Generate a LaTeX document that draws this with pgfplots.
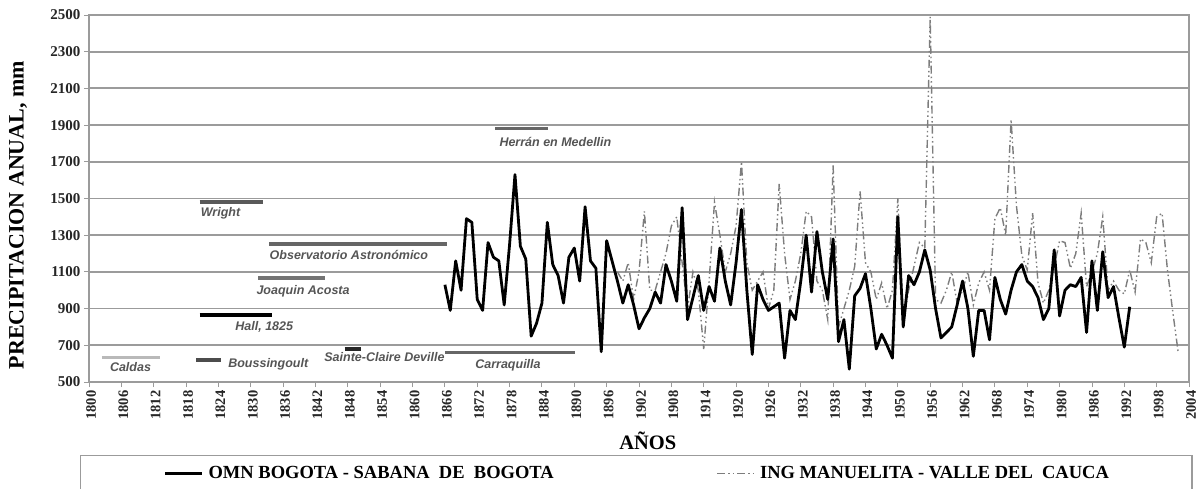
\documentclass[border=0pt]{standalone}
\usepackage{fontspec}
\setmainfont{Liberation Serif}
\setsansfont{Liberation Sans}
\usepackage{pgfplots}
\pgfplotsset{compat=1.18}
\definecolor{gridgray}{RGB}{155,155,155}
\definecolor{mangray}{RGB}{125,125,125}
\definecolor{annotext}{RGB}{85,85,85}
\pgfplotstableread{
year val
1866 1030
1867 890
1868 1160
1869 1000
1870 1390
1871 1370
1872 950
1873 890
1874 1260
1875 1180
1876 1160
1877 920
1878 1250
1879 1630
1880 1240
1881 1170
1882 750
1883 820
1884 930
1885 1370
1886 1140
1887 1080
1888 930
1889 1180
1890 1230
1891 1050
1892 1455
1893 1160
1894 1120
1895 665
1896 1270
1897 1160
1898 1050
1899 930
1900 1030
1901 920
1902 790
1903 850
1904 900
1905 990
1906 930
1907 1140
1908 1050
1909 940
1910 1450
1911 840
1912 960
1913 1080
1914 890
1915 1020
1916 940
1917 1230
1918 1050
1919 920
1920 1150
1921 1440
1922 1000
1923 650
1924 1030
1925 950
1926 890
1927 910
1928 930
1929 630
1930 890
1931 840
1932 1050
1933 1300
1934 990
1935 1320
1936 1100
1937 950
1938 1280
1939 720
1940 840
1941 570
1942 970
1943 1010
1944 1090
1945 900
1946 680
1947 760
1948 700
1949 630
1950 1400
1951 800
1952 1080
1953 1030
1954 1100
1955 1220
1956 1110
1957 900
1958 740
1959 770
1960 800
1961 920
1962 1050
1963 900
1964 640
1965 890
1966 890
1967 730
1968 1070
1969 950
1970 870
1971 1000
1972 1100
1973 1140
1974 1050
1975 1020
1976 960
1977 840
1978 900
1979 1220
1980 860
1981 1000
1982 1030
1983 1020
1984 1070
1985 770
1986 1160
1987 890
1988 1210
1989 960
1990 1020
1991 850
1992 690
1993 910
}\bogota
\pgfplotstableread{
year val
1898 1100
1899 1050
1900 1150
1901 950
1902 1100
1903 1430
1904 1000
1905 1000
1906 1100
1907 1200
1908 1350
1909 1400
1910 1150
1911 900
1912 1100
1913 1000
1914 680
1915 1050
1916 1480
1917 1300
1918 1100
1919 1200
1920 1350
1921 1700
1922 1150
1923 1000
1924 1050
1925 1100
1926 900
1927 1000
1928 1580
1929 1200
1930 950
1931 1050
1932 1200
1933 1430
1934 1400
1935 1050
1936 1000
1937 840
1938 1680
1939 800
1940 900
1941 1000
1942 1130
1943 1540
1944 1150
1945 1100
1946 950
1947 1040
1948 900
1949 1000
1950 1500
1951 820
1952 1000
1953 1130
1954 1260
1955 1230
1956 2490
1957 950
1958 930
1959 1000
1960 1100
1961 930
1962 1000
1963 1100
1964 920
1965 1040
1966 1100
1967 1000
1968 1390
1969 1450
1970 1300
1971 1930
1972 1460
1973 1190
1974 1110
1975 1420
1976 1040
1977 930
1978 1000
1979 1130
1980 1270
1981 1260
1982 1120
1983 1200
1984 1420
1985 1020
1986 1100
1987 1200
1988 1400
1989 1000
1990 1050
1991 1000
1992 980
1993 1110
1994 990
1995 1280
1996 1260
1997 1150
1998 1400
1999 1420
2000 1110
2001 880
2002 660
}\manuelita
\begin{document}
\begin{tikzpicture}
\begin{axis}[
  at={(89bp,107bp)}, anchor=south west,
  scale only axis, width=1100bp, height=367bp,
  xmin=1800, xmax=2004, ymin=500, ymax=2500,
  xtick={1800,1806,...,2004},
  minor x tick num=5,
  ytick={500,700,...,2500},
  xtick pos=lower, ytick pos=left,
  ymajorgrids,
  major grid style={gridgray, line width=1.8bp},
  axis line style={gridgray, line width=1.8bp},
  tick style={gridgray, line width=0.9bp},
  tick align=outside,
  major tick length=5bp, minor tick length=4bp,
  /pgf/number format/1000 sep={},
  /pgf/number format/assume math mode=true,
  xticklabel style={rotate=90, anchor=east, font=\fontsize{14.5bp}{14.5bp}\selectfont\bfseries, text=black!85, xshift=0bp, yshift=-2bp},
  yticklabel style={font=\fontsize{15bp}{15bp}\selectfont\bfseries, text=black!85},
  ylabel={PRECIPITACION ANUAL, mm},
  ylabel style={at={(axis description cs:-0.0645,0.455)}, anchor=center, font=\fontsize{22bp}{22bp}\selectfont\bfseries},
  xlabel={AÑOS},
  xlabel style={at={(axis description cs:0.508,-0.161)}, anchor=center, font=\fontsize{20.5bp}{20.5bp}\selectfont\bfseries},
  legend style={
    at={(axis description cs:-0.0082,-0.1989)}, anchor=north west,
    draw=gridgray, line width=1.2bp,
    inner xsep=83bp, inner ysep=8bp,
    legend columns=2,
    font=\fontsize{18.5bp}{18.5bp}\selectfont\bfseries,
    nodes={inner xsep=0bp, inner ysep=3bp},
    /tikz/every odd column/.style={column sep=5bp},
    /tikz/every even column/.style={column sep=163bp},
  },
  legend image code/.code={\draw[#1] (0bp,0bp) -- (37bp,0bp);},
]
\addlegendimage{black, line width=3bp}
\addlegendentry{OMN BOGOTA - SABANA\ \ DE\ \ BOGOTA}
\addplot[mangray, line width=1.4bp, dash pattern=on 8bp off 3bp on 1.5bp off 3bp on 1.5bp off 3bp] table[x=year, y=val] {\manuelita};
\addlegendentry{ING MANUELITA - VALLE DEL\ \ CAUCA}
\addplot[black, line width=2.8bp, line join=round, forget plot] table[x=year, y=val] {\bogota};
% station periods
\addplot[gray!55, line width=3bp, forget plot] coordinates {(1802.4,636) (1813.1,636)};
\addplot[black!70, line width=3.5bp, forget plot] coordinates {(1819.9,620) (1824.5,620)};
\addplot[black, line width=3.8bp, forget plot] coordinates {(1820.5,865) (1834,865)};
\addplot[black!55, line width=3.2bp, forget plot] coordinates {(1831.4,1067) (1843.7,1067)};
\addplot[black!60, line width=3.2bp, forget plot] coordinates {(1833.4,1252) (1866.4,1252)};
\addplot[black!65, line width=3.6bp, forget plot] coordinates {(1820.5,1480) (1832.3,1480)};
\addplot[black!85, line width=3.5bp, forget plot] coordinates {(1847.4,680) (1850.4,680)};
\addplot[black!60, line width=3bp, forget plot] coordinates {(1866,663) (1890.2,663)};
\addplot[black!60, line width=3bp, forget plot] coordinates {(1875.3,1884) (1885.1,1884)};
\begin{scope}[every node/.style={font=\fontsize{12.5bp}{12.5bp}\selectfont\sffamily\bfseries\itshape, text=annotext, inner sep=0pt}]
\node at (axis cs:1807.7,582) {Caldas};
\node[anchor=west] at (axis cs:1825.8,598) {Boussingoult};
\node at (axis cs:1832.5,800) {Hall, 1825};
\node at (axis cs:1839.7,996) {Joaquin Acosta};
\node at (axis cs:1848.2,1192) {Observatorio Astronómico};
\node at (axis cs:1824.4,1420) {Wright};
\node at (axis cs:1854.8,636) {Sainte-Claire Deville};
\node at (axis cs:1877.7,593) {Carraquilla};
\node at (axis cs:1886.5,1808) {Herrán en Medellin};
\end{scope}
\end{axis}
\pgfresetboundingbox
\path (0,0) rectangle (1202bp,489bp);
\end{tikzpicture}
\end{document}
